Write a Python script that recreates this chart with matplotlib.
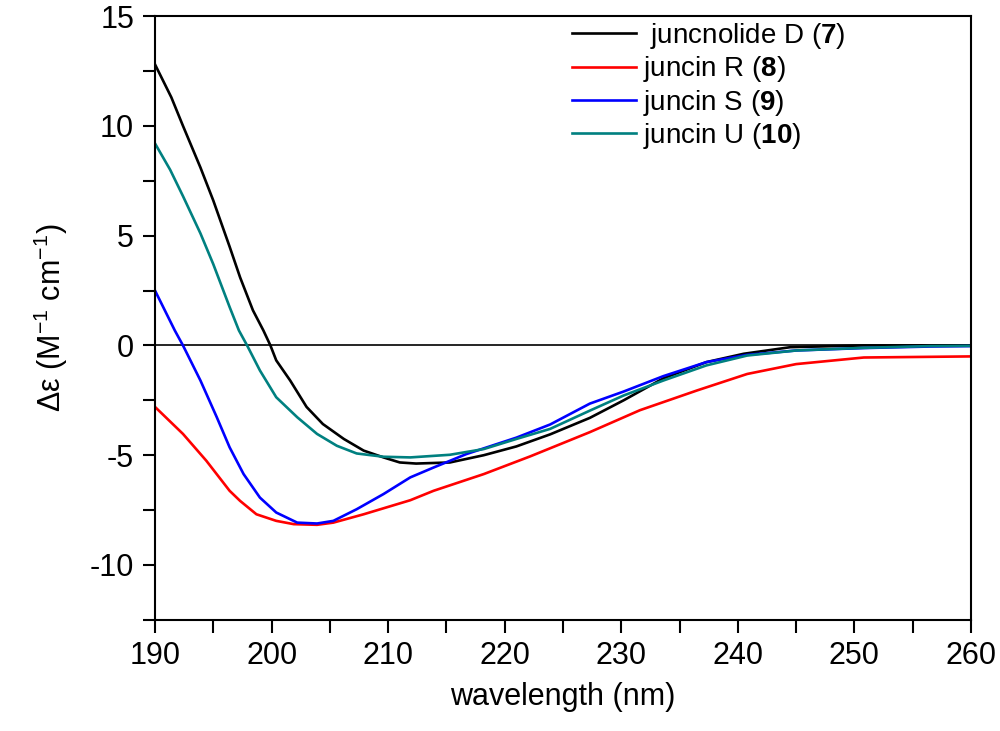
import numpy as np
import matplotlib
matplotlib.use('Agg')
import matplotlib.pyplot as plt
from matplotlib.ticker import MultipleLocator

plt.rcParams['font.family'] = ['Liberation Sans', 'DejaVu Sans']
plt.rcParams['mathtext.fontset'] = 'custom'
plt.rcParams['mathtext.rm'] = 'Liberation Sans'
plt.rcParams['mathtext.it'] = 'Liberation Sans:italic'
plt.rcParams['mathtext.bf'] = 'Liberation Sans:bold'
plt.rcParams['axes.unicode_minus'] = False

# juncnolide D (7)
wl_7 = [190, 191.4, 192.4, 193.9, 195.0, 196.4, 197.3, 198.4, 199.3, 199.9, 200.4, 201.6, 203.0,
        204.4, 206.2, 207.9, 209.6, 211.0, 212.4, 215.3, 218.2, 221.0, 223.9, 227.3, 230.2, 233.6,
        237.3, 240.5, 244.5, 250.8, 260]
cd_7 = [12.8, 11.3, 10.0, 8.1, 6.6, 4.5, 3.1, 1.6, 0.68, 0.0, -0.68, -1.6, -2.8,
        -3.58, -4.26, -4.79, -5.1, -5.33, -5.38, -5.33, -5.0, -4.6, -4.05, -3.3, -2.5, -1.5,
        -0.76, -0.38, -0.08, 0.0, 0.0]

# juncin R (8)
wl_8 = [190, 192.4, 194.4, 196.4, 197.3, 198.7, 200.4, 201.9, 203.9, 205.3, 207.9, 211.9, 213.9,
        218.2, 222.2, 227.3, 231.6, 236.5, 240.8, 245.0, 250.8, 260]
cd_8 = [-2.8, -4.03, -5.25, -6.62, -7.08, -7.69, -7.99, -8.14, -8.17, -8.07, -7.69, -7.05, -6.62,
        -5.86, -5.05, -3.95, -2.95, -2.05, -1.3, -0.85, -0.55, -0.5]

# juncin S (9)
wl_9 = [190, 191.7, 192.4, 193.9, 195.3, 196.4, 197.6, 199.0, 200.4, 202.2, 203.9, 205.3, 207.3,
        209.6, 211.9, 213.9, 216.7, 221.0, 223.9, 227.3, 230.2, 233.6, 237.3, 240.8, 245.0, 250.8,
        256.5, 260]
cd_9 = [2.5, 0.68, 0.0, -1.6, -3.27, -4.64, -5.86, -6.93, -7.61, -8.07, -8.11, -7.99, -7.46,
        -6.77, -6.01, -5.56, -4.95, -4.2, -3.6, -2.65, -2.1, -1.4, -0.76, -0.43, -0.23, -0.12,
        -0.05, -0.03]

# juncin U (10)
wl_10 = [190, 191.3, 192.4, 193.9, 195.0, 196.4, 197.2, 197.9, 199.0, 200.4, 202.2, 203.9, 205.6,
         207.3, 209.6, 211.9, 215.3, 218.2, 221.0, 223.9, 227.3, 230.2, 233.6, 237.3, 240.8, 245.0,
         250.8, 256.5, 260]
cd_10 = [9.2, 8.0, 6.8, 5.1, 3.7, 1.75, 0.68, 0.0, -1.14, -2.36, -3.27, -4.03, -4.57,
         -4.92, -5.07, -5.1, -4.98, -4.72, -4.26, -3.8, -2.97, -2.28, -1.6, -0.91, -0.46, -0.23,
         -0.11, -0.03, -0.02]

labels = [r' juncnolide D ($\mathbf{7}$)', r'juncin R ($\mathbf{8}$)',
          r'juncin S ($\mathbf{9}$)', r'juncin U ($\mathbf{10}$)']
colors = ['black', '#ff0000', '#0000ff', '#008080']

fig = plt.figure(figsize=(10, 7.31), dpi=100)
ax = fig.add_axes([0.155, 0.152, 0.816, 0.826])

ax.axhline(0, color='black', lw=1.2, zorder=1)
for wl, cd, lab, c in zip([wl_7, wl_8, wl_9, wl_10], [cd_7, cd_8, cd_9, cd_10], labels, colors):
    ax.plot(wl, cd, color=c, lw=1.9, label=lab)

ax.set_xlim(190, 260)
ax.set_ylim(-12.5, 15)
ax.xaxis.set_major_locator(MultipleLocator(10))
ax.xaxis.set_minor_locator(MultipleLocator(5))
ax.yaxis.set_major_locator(MultipleLocator(5))
ax.yaxis.set_minor_locator(MultipleLocator(2.5))
ax.tick_params(which='both', direction='out', length=9, width=1.5, labelsize=22, pad=6)
for s in ax.spines.values():
    s.set_linewidth(1.5)

ax.set_xlabel('wavelength (nm)', fontsize=22, labelpad=8)
ax.set_ylabel('Δε (M$^{-1}$ cm$^{-1}$)', fontsize=22, labelpad=14)

ax.legend(loc='upper left', bbox_to_anchor=(0.572, 1 - 21 / 731), bbox_transform=fig.transFigure,
          frameon=False, fontsize=20, handlelength=2.3, handletextpad=0.25,
          labelspacing=0.12, borderpad=0, borderaxespad=0)

fig.savefig('out.png', dpi=100)
